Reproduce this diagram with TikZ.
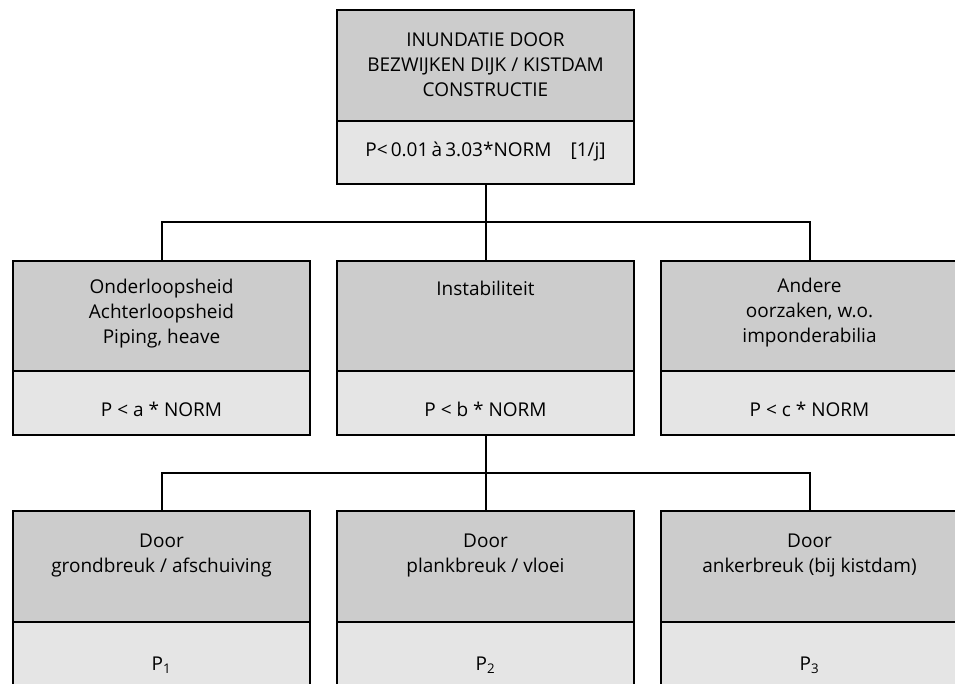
\documentclass[tikz,border=0pt]{standalone}
\usepackage{fontspec}
\setmainfont{Open Sans}
\definecolor{upgray}{RGB}{204,204,204}
\definecolor{logray}{RGB}{229,229,229}
\begin{document}
\begin{tikzpicture}[x=1pt,y=-1pt,
  box/.style={draw=black,line width=2pt,minimum width=297pt,anchor=north west,inner sep=0pt,outer sep=0pt},
  hi/.style={box,fill=upgray,minimum height=110pt},
  lo/.style={box,fill=logray,minimum height=64pt},
  txt/.style={font=\fontsize{19}{25}\selectfont,align=center,inner sep=0pt},
  link/.style={line width=2pt}]
\useasboundingbox (0,0) rectangle (955,684);
\clip (0,0) rectangle (955,684);
% top box
\node[lo,minimum height=63pt] (t2) at (337,121) {};
\node[hi,minimum height=111pt] (t1) at (337,10) {};
\node[txt] (t1t) at (485.5,65) {INUNDATIE DOOR\\BEZWIJKEN DIJK / KISTDAM\\CONSTRUCTIE};
\node[txt,anchor=base] (t2t) at (485.5,157) {P<\,0.01\,à\,3.03*NORM\hspace{1em}[1/j]};
% middle row
\node[lo] (a2) at (13,371) {};
\node[hi] (a1) at (13,261) {};
\node[lo] (b2) at (337,371) {};
\node[hi] (b1) at (337,261) {};
\node[lo] (c2) at (661,371) {};
\node[hi] (c1) at (661,261) {};
\node[txt] (a1t) at (161.5,314) {Onderloopsheid\\Achterloopsheid\\Piping, heave};
\node[txt] (b1t) at (485.5,288) {Instabiliteit};
\node[txt] (c1t) at (809.5,313) {Andere\\oorzaken, w.o.\\imponderabilia};
\node[txt,anchor=base] (a2t) at (161.5,416) {P < a * NORM};
\node[txt,anchor=base] (b2t) at (485.5,416) {P < b * NORM};
\node[txt,anchor=base] (c2t) at (809.5,416) {P < c * NORM};
% bottom row
\node[lo,minimum height=64pt] (d2) at (13,622) {};
\node[hi,minimum height=111pt] (d1) at (13,511) {};
\node[lo,minimum height=64pt] (e2) at (337,622) {};
\node[hi,minimum height=111pt] (e1) at (337,511) {};
\node[lo,minimum height=64pt] (f2) at (661,622) {};
\node[hi,minimum height=111pt] (f1) at (661,511) {};
\node[txt] (d1t) at (161.5,555) {Door\\grondbreuk / afschuiving};
\node[txt] (e1t) at (485.5,555) {Door\\plankbreuk / vloei};
\node[txt] (f1t) at (809.5,555) {Door\\ankerbreuk (bij kistdam)};
\node[txt,anchor=base] (d2t) at (161.5,670) {P\textsubscript{1}};
\node[txt,anchor=base] (e2t) at (485.5,670) {P\textsubscript{2}};
\node[txt,anchor=base] (f2t) at (809.5,670) {P\textsubscript{3}};
% connectors
\coordinate (j1) at (485.5,222);
\coordinate (j2) at (485.5,473);
\draw[link] (t2.south) -- (j1);
\draw[link] (a1.north) |- (j1) -| (c1.north);
\draw[link] (b1.north) -- (j1);
\draw[link] (b2.south) -- (j2);
\draw[link] (d1.north) |- (j2) -| (f1.north);
\draw[link] (e1.north) -- (j2);
\end{tikzpicture}
\end{document}
